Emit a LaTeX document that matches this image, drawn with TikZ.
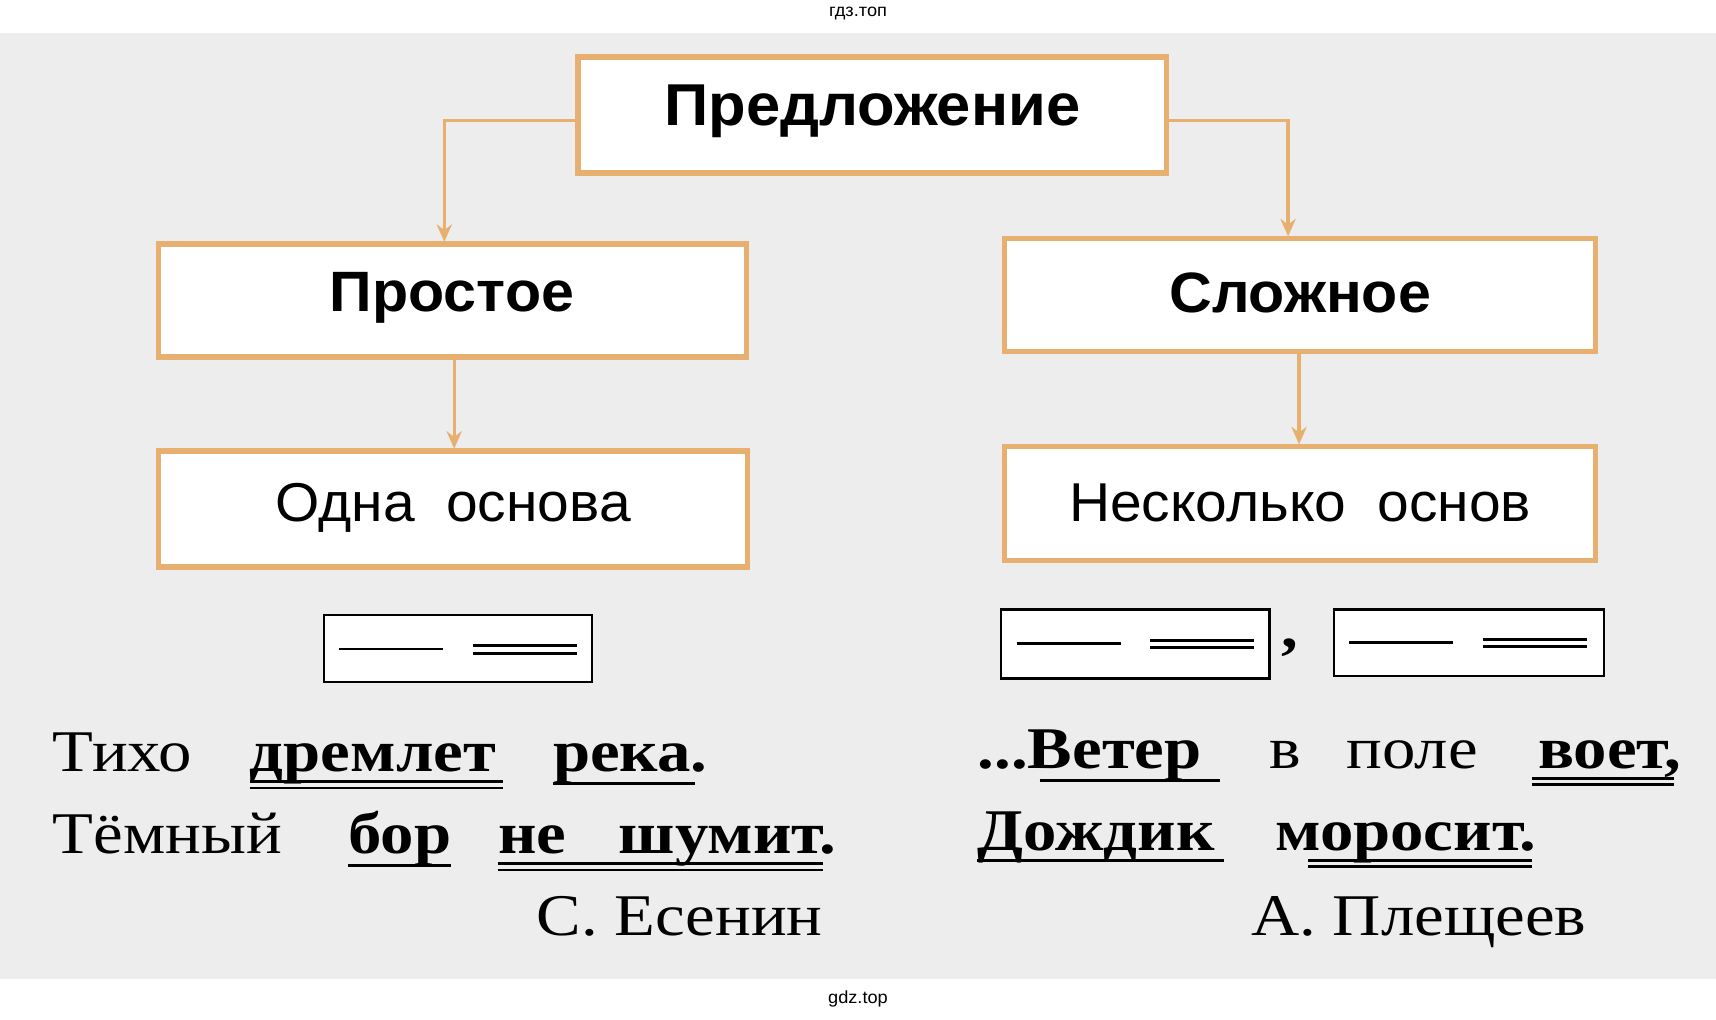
\documentclass[tikz,border=0pt]{standalone}
\usepackage{fontspec}
\setmainfont[FakeStretch=1.13]{Liberation Serif}
\newfontfamily\boxfont[FakeStretch=1.04]{Liberation Sans}
\usetikzlibrary{arrows.meta}
\definecolor{org}{HTML}{E8B070}
\begin{document}
\begin{tikzpicture}[x=0.5pt,y=-0.5pt,
  bx/.style={draw=org,line width=2.5pt,fill=white},
  arr/.style={draw=org,line width=1.5pt,-{Stealth[length=8pt,width=7pt]}},
  sline/.style={line width=1pt},
  wd/.style={anchor=base west,inner sep=0pt,font=\fontsize{27}{30}\selectfont},
  bw/.style={wd,font=\fontsize{27}{30}\selectfont\bfseries}]
\useasboundingbox (0,0) rectangle (1568,932);
\fill[white] (0,0) rectangle (1568,932);
\fill[black!7] (0,30) rectangle (1568,895);
\node[font=\boxfont\fontsize{8}{10}\selectfont] (t1) at (784,12) {гдз.топ};
\node[font=\boxfont\fontsize{8}{10}\selectfont] (t2) at (784,913) {gdz.top};
% boxes
\draw[bx] (528,52) rectangle (1066,158);
\node[font=\boxfont\bfseries\fontsize{27}{30}\selectfont] (p) at (797,102) {Предложение};
\draw[bx] (145,223) rectangle (682,326);
\node[font=\boxfont\bfseries\fontsize{26}{30}\selectfont] (s) at (413,272) {Простое};
\draw[bx] (918,218) rectangle (1458,321);
\node[font=\boxfont\bfseries\fontsize{26}{30}\selectfont] (c) at (1188,268) {Сложное};
\draw[bx] (145,412) rectangle (683,518);
\node[font=\boxfont\fontsize{25}{30}\selectfont] (o) at (414,464) {Одна\ \ основа};
\draw[bx] (918,408) rectangle (1458,512);
\node[font=\boxfont\fontsize{25}{30}\selectfont] (n) at (1188,460) {Несколько\ \ основ};
\coordinate (pl) at (528,110); \coordinate (pr) at (1066,110);
\draw[arr] (pl) -- (406,110) -- (406,221);
\draw[arr] (pr) -- (1177,110) -- (1177,216);
\draw[arr] (415,328) -- (415,410);
\draw[arr] (1187,323) -- (1187,406);
% schemes
\draw[sline,fill=white] (296,562) rectangle (541,623);
\draw[line width=1.3pt] (310,593) -- (405,593) (432,590) -- (527,590) (432,597) -- (527,597);
\draw[sline,fill=white] (915,557) rectangle (1160,620);
\draw[line width=1.3pt] (929,588) -- (1024,588) (1051,585) -- (1146,585) (1051,592) -- (1146,592);
\node[font=\fontsize{27}{30}\selectfont\bfseries] (cm) at (1179,592) {,};
\draw[sline,fill=white] (1219,557) rectangle (1466,618);
\draw[line width=1.3pt] (1233,587) -- (1328,587) (1355,584) -- (1450,584) (1355,591) -- (1450,591);
% text
\node[wd] (w1) at (48,705) {Тихо};
\node[bw] (w2) at (228,705) {дремлет};
\node[bw] (w3) at (505,705) {река.};
\node[wd] (w4) at (48,780) {Тёмный};
\node[bw] (w5) at (318,780) {бор};
\node[bw] (w6) at (455,780) {не};
\node[bw] (w7) at (565,780) {шумит.};
\node[bw] (v1) at (893,702) {...Ветер};
\node[wd] (v2) at (1160,702) {в};
\node[wd] (v3) at (1230,702) {поле};
\node[bw] (v4) at (1405,702) {воет,};
\node[bw] (v5) at (893,777) {Дождик};
\node[bw] (v6) at (1165,777) {моросит.};
\node[wd] (a1) at (490,855) {С. Есенин};
\node[wd] (a2) at (1143,855) {А. Плещеев};
% underlines
\draw[line width=1.3pt] (228,714)--(460,714) (228,720)--(460,720);
\draw[line width=1.3pt] (505,716)--(635,716);
\draw[line width=1.3pt] (318,791)--(412,791);
\draw[line width=1.3pt] (455,789)--(752,789) (455,795)--(752,795);
\draw[line width=1.3pt] (950,713)--(1115,713);
\draw[line width=1.3pt] (1400,711)--(1530,711) (1400,717)--(1530,717);
\draw[line width=1.3pt] (893,786)--(1118,786);
\draw[line width=1.3pt] (1195,786)--(1400,786) (1195,792)--(1400,792);
\end{tikzpicture}
\end{document}
